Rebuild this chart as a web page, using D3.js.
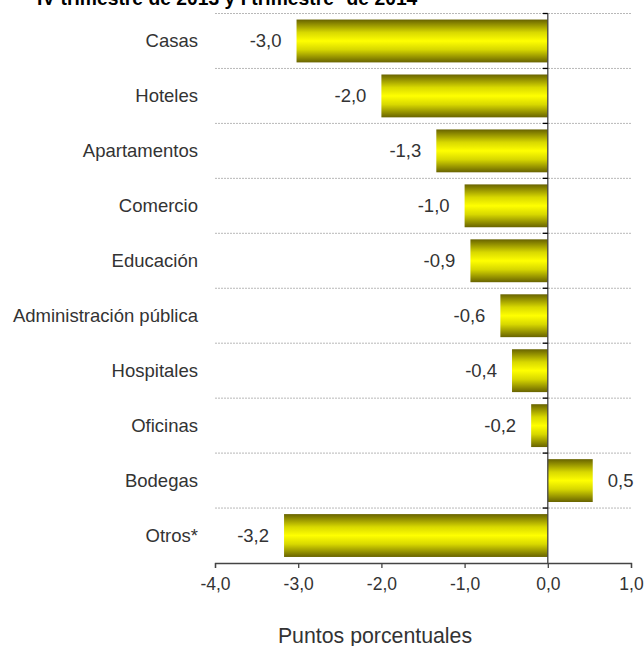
<!DOCTYPE html>
<html>
<head>
<meta charset="utf-8">
<script src="https://cdn.jsdelivr.net/npm/d3@7"></script>
<style>
  html, body { margin: 0; padding: 0; background: #fff; }
  svg { display: block; font-family: "Liberation Sans", Arial, sans-serif; }
</style>
</head>
<body>
<div id="chart"></div>
<script>
// datos
const categorias = ['Casas', 'Hoteles', 'Apartamentos', 'Comercio', 'Educación',
  'Administración pública', 'Hospitales', 'Oficinas', 'Bodegas', 'Otros*'];
const valores = [-3.02, -2.0, -1.34, -1.0, -0.93, -0.57, -0.43, -0.2, 0.54, -3.17];
const ticksX = [-4, -3, -2, -1, 0, 1];

const width = 644, height = 646;
const margin = { top: 13.5, right: 13, bottom: 83, left: 215 };

const svg = d3.select('#chart').append('svg')
  .attr('width', width)
  .attr('height', height);

// degradado de las barras
const grad = svg.append('defs').append('linearGradient')
  .attr('id', 'amarillo')
  .attr('x1', 0).attr('y1', 0).attr('x2', 0).attr('y2', 1);
[[0, '#686300'], [0.3, '#d8d800'], [0.5, '#ffff00'], [0.7, '#d8d800'], [1, '#686300']]
  .forEach(s => grad.append('stop').attr('offset', s[0]).attr('stop-color', s[1]));

const x = d3.scaleLinear().domain([-4, 1]).range([margin.left, width - margin.right]);
const y = d3.scaleBand().domain(categorias)
  .range([margin.top, height - margin.bottom])
  .paddingInner(0.22).paddingOuter(0.11);
const step = y.step();

// titulo (cortado arriba, como en el original)
const titulo = svg.append('text')
  .attr('x', 37).attr('y', 5)
  .attr('font-size', 19.3).attr('font-weight', 'bold').attr('fill', '#000');
titulo.append('tspan').text('IV trimestre de 2013 y I trimestre');
titulo.append('tspan').attr('dy', -9).attr('font-size', 12).text('p');
titulo.append('tspan').attr('dy', 9).text(' de 2014');

// lineas de division
const bordes = categorias.map(c => y(c) - step * 0.11);
svg.append('g').selectAll('line')
  .data(bordes)
  .enter().append('line')
  .attr('x1', x(-4)).attr('x2', x(1))
  .attr('y1', d => d).attr('y2', d => d)
  .attr('stroke', '#b8b8b8').attr('stroke-width', 1)
  .attr('stroke-dasharray', '2,1');

// barras
svg.append('g').selectAll('rect')
  .data(valores)
  .enter().append('rect')
  .attr('x', d => x(Math.min(0, d)))
  .attr('y', (d, i) => y(categorias[i]))
  .attr('width', d => Math.abs(x(d) - x(0)))
  .attr('height', y.bandwidth())
  .attr('fill', 'url(#amarillo)');

// etiquetas de valor
const fmt = v => v.toFixed(1).replace('.', ',');
svg.append('g').selectAll('text')
  .data(valores)
  .enter().append('text')
  .attr('x', d => d < 0 ? x(d) - 15 : x(d) + 15)
  .attr('y', (d, i) => y(categorias[i]) + y.bandwidth() / 2)
  .attr('dy', '0.35em')
  .attr('text-anchor', d => d < 0 ? 'end' : 'start')
  .attr('font-size', 18.5).attr('fill', '#333')
  .text(fmt);

// categorias
svg.append('g').selectAll('text')
  .data(categorias)
  .enter().append('text')
  .attr('x', 198)
  .attr('y', d => y(d) + y.bandwidth() / 2)
  .attr('dy', '0.35em')
  .attr('text-anchor', 'end')
  .attr('font-size', 18.5).attr('fill', '#333')
  .text(d => d);

// eje vertical en cero
const ejeY = svg.append('g');
ejeY.append('line')
  .attr('x1', x(0)).attr('x2', x(0))
  .attr('y1', margin.top).attr('y2', height - margin.bottom)
  .attr('stroke', '#444').attr('stroke-width', 1.3);
ejeY.selectAll('.tk')
  .data(bordes)
  .enter().append('line')
  .attr('x1', x(0) - 5).attr('x2', x(0))
  .attr('y1', d => d).attr('y2', d => d)
  .attr('stroke', '#000').attr('stroke-width', 1.3);

// eje X
const ejeX = svg.append('g')
  .attr('transform', `translate(0,${height - margin.bottom})`)
  .call(d3.axisBottom(x).tickValues(ticksX).tickSize(5).tickPadding(10).tickFormat(fmt));
ejeX.select('.domain').attr('stroke', '#444').attr('stroke-width', 1.3);
ejeX.selectAll('.tick line').attr('stroke', '#444').attr('stroke-width', 1.3);
ejeX.selectAll('.tick text')
  .attr('font-size', 17.5).attr('fill', '#333')
  .attr('font-family', '"Liberation Sans", Arial, sans-serif');

// titulo del eje
svg.append('text')
  .attr('x', 375).attr('y', 643)
  .attr('text-anchor', 'middle')
  .attr('font-size', 21.3).attr('fill', '#333')
  .text('Puntos porcentuales');
</script>
</body>
</html>
